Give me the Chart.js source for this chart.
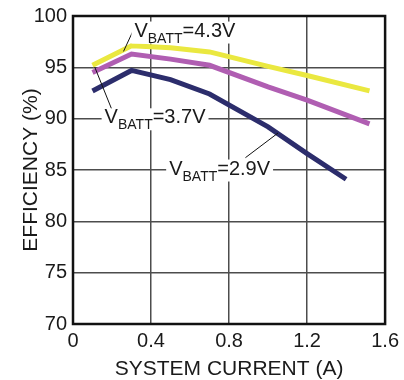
<!DOCTYPE html>
<html>
<head>
<meta charset="utf-8">
<script src="https://cdn.jsdelivr.net/npm/chart.js@4.4.1/dist/chart.umd.min.js"></script>
<style>
html,body{margin:0;padding:0;background:#fff;}
#wrap{width:404px;height:380px;}
</style>
</head>
<body>
<div id="wrap"><canvas id="c" width="404" height="380"></canvas></div>
<script>
// ---- data ----
const xTicks = [0, 0.4, 0.8, 1.2, 1.6];
const yTicks = [70, 75, 80, 85, 90, 95, 100];

const current43 = [0.1, 0.3, 0.5, 0.7, 1.0, 1.2, 1.52];
const eff43     = [95.2, 97.1, 96.9, 96.5, 95.1, 94.2, 92.7];

const current37 = [0.1, 0.3, 0.5, 0.7, 1.0, 1.2, 1.52];
const eff37     = [94.5, 96.3, 95.8, 95.2, 93.1, 91.8, 89.5];

const current29 = [0.1, 0.3, 0.5, 0.7, 1.0, 1.2, 1.4];
const eff29     = [92.7, 94.7, 93.8, 92.4, 89.2, 86.6, 84.1];

const seriesNames = ['4.3V', '3.7V', '2.9V'];

function pts(xs, ys){ return xs.map((x,i)=>({x:x, y:ys[i]})); }

// label annotations (data coordinates)
const labels = [
  {main:'V', sub:'BATT', tail:'=' + seriesNames[0], x:0.315, y:98.0,  lx1:0.259, ly1:96.55, lx2:0.315, ly2:98.85},
  {main:'V', sub:'BATT', tail:'=' + seriesNames[1], x:0.162, y:89.55, lx1:0.112, ly1:95.0,  lx2:0.203, ly2:90.7},
  {main:'V', sub:'BATT', tail:'=' + seriesNames[2], x:0.493, y:84.56, lx1:0.884, ly1:86.2,  lx2:1.051, ly2:88.6}
];

const FONT = "'Liberation Sans', Arial, Helvetica, sans-serif";

const framePlugin = {
  id:'frame',
  beforeDatasetsDraw(chart){
    const {ctx, chartArea:a} = chart;
    ctx.save();
    ctx.strokeStyle = '#111';
    ctx.lineWidth = 2.5;
    ctx.strokeRect(a.left, a.top, a.right - a.left, a.bottom - a.top);
    ctx.restore();
  }
};

const labelPlugin = {
  id:'vlabels',
  afterDatasetsDraw(chart){
    const {ctx, scales:{x, y}} = chart;
    ctx.save();
    labels.forEach(l => {
      ctx.strokeStyle = '#111';
      ctx.lineWidth = 1;
      ctx.beginPath();
      ctx.moveTo(x.getPixelForValue(l.lx1), y.getPixelForValue(l.ly1));
      ctx.lineTo(x.getPixelForValue(l.lx2), y.getPixelForValue(l.ly2));
      ctx.stroke();

      const px = x.getPixelForValue(l.x);
      const py = y.getPixelForValue(l.y);
      ctx.textBaseline = 'alphabetic';
      ctx.textAlign = 'left';
      ctx.font = '20px ' + FONT;
      const w1 = ctx.measureText(l.main).width;
      const w3 = ctx.measureText(l.tail).width;
      ctx.font = '14px ' + FONT;
      const w2 = ctx.measureText(l.sub).width;
      const total = w1 + w2 + w3;
      ctx.fillStyle = '#fff';
      ctx.fillRect(px - 3, py - 15, total + 6, 22);
      ctx.fillStyle = '#1a1a1a';
      ctx.font = '20px ' + FONT;
      ctx.fillText(l.main, px, py);
      ctx.font = '14px ' + FONT;
      ctx.fillText(l.sub, px + w1, py + 6);
      ctx.font = '20px ' + FONT;
      ctx.fillText(l.tail, px + w1 + w2, py);
    });
    ctx.restore();
  }
};

const gridColor = '#4d4d4d';

new Chart(document.getElementById('c'), {
  type:'line',
  data:{
    datasets:[
      {label:seriesNames[0], data:pts(current43, eff43), borderColor:'rgb(234,232,64)', borderWidth:5, pointRadius:0, tension:0, fill:false},
      {label:seriesNames[1], data:pts(current37, eff37), borderColor:'rgb(176,94,178)', borderWidth:5, pointRadius:0, tension:0, fill:false},
      {label:seriesNames[2], data:pts(current29, eff29), borderColor:'rgb(44,45,108)', borderWidth:5, pointRadius:0, tension:0, fill:false}
    ]
  },
  options:{
    responsive:false,
    animation:false,
    devicePixelRatio:1,
    layout:{padding:{top:11, right:16, left:0, bottom:0}},
    plugins:{legend:{display:false}, tooltip:{enabled:false}},
    scales:{
      x:{
        type:'linear', min:0, max:1.6,
        afterBuildTicks(s){ s.ticks = xTicks.map(v=>({value:v})); },
        afterFit(s){ s.height = 56; },
        ticks:{
          color:'#1a1a1a', padding:5,
          font:{family:FONT, size:20, lineHeight:1.2},
          callback:(v)=> v === 0 ? '0' : Number(v).toFixed(1)
        },
        grid:{color:gridColor, lineWidth:1.5, drawTicks:false},
        border:{display:false},
        title:{display:true, text:'SYSTEM CURRENT (A)', color:'#1a1a1a',
               font:{family:FONT, size:21, lineHeight:1}, padding:{top:0,bottom:0}}
      },
      y:{
        type:'linear', min:70, max:100,
        afterBuildTicks(s){ s.ticks = yTicks.map(v=>({value:v})); },
        afterFit(s){ s.width = 73; },
        ticks:{
          color:'#1a1a1a', padding:6,
          font:{family:FONT, size:20, lineHeight:1}
        },
        grid:{color:gridColor, lineWidth:1.5, drawTicks:false},
        border:{display:false},
        title:{display:true, text:'EFFICIENCY (%)', color:'#1a1a1a',
               font:{family:FONT, size:21, lineHeight:1}, padding:{top:21,bottom:0}}
      }
    }
  },
  plugins:[framePlugin, labelPlugin]
});
</script>
</body>
</html>
